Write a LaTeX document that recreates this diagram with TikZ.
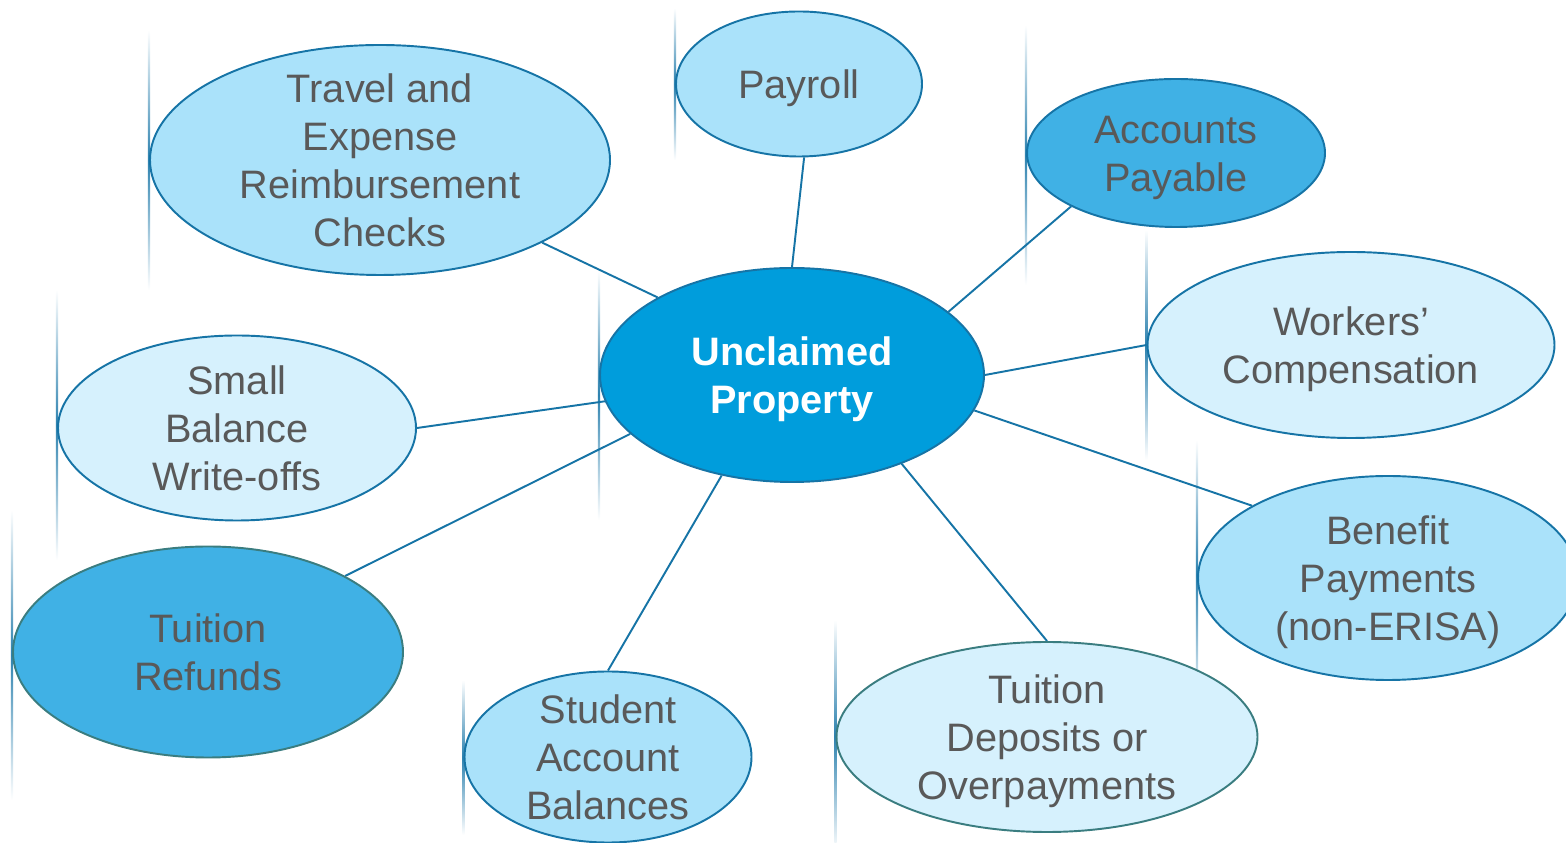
\documentclass[tikz,border=0pt]{standalone}
\usepackage{fontspec}
\setmainfont{Liberation Sans}
\usetikzlibrary{shapes, backgrounds}
\definecolor{hubblue}{RGB}{0,157,220}
\definecolor{midblue}{RGB}{64,177,229}
\definecolor{lightblue}{RGB}{170,226,250}
\definecolor{paleblue}{RGB}{214,241,253}
\definecolor{edgeblue}{RGB}{22,116,166}
\definecolor{edgeteal}{RGB}{58,125,128}
\definecolor{textgray}{RGB}{89,89,89}
% struts keep every label on the same vertical grid
\newcommand{\capstrut}{\rule{0pt}{21.2pt}}
\tikzstyle{bubble} = [ellipse, draw=edgeblue, line width=1.1pt, inner sep=-10pt,
    align=center, text=textgray, font=\fontsize{22.6}{27.3}\selectfont,
    execute at end node={\rule[-4.8pt]{0pt}{4.8pt}}]
\tikzstyle{line} = [draw, edgeblue, line width=1.1pt]
% thin faded stroke hanging at the west end of a bubble: node, up, down
\newcommand{\edgetail}[3]{%
  \shade[top color=white, bottom color=white, middle color=edgeblue!90]
    ([xshift=-0.6pt, yshift=#2cm]#1.west) rectangle ([xshift=0.6pt, yshift=-#3cm]#1.west);}

\begin{document}
\begin{tikzpicture}
\useasboundingbox (0,0) rectangle (31.32,16.86);
\node[bubble, fill=hubblue, text=white, font=\fontsize{22.6}{27.3}\selectfont\bfseries,
    minimum width=7.68cm, minimum height=4.28cm] (hub) at (15.84,9.36) {\capstrut Unclaimed\\Property};
\node[bubble, fill=lightblue, minimum width=9.2cm, minimum height=4.6cm] (travel) at (7.60,13.66)
    {\capstrut Travel and\\Expense\\Reimbursement\\Checks};
\node[bubble, fill=lightblue, minimum width=4.92cm, minimum height=2.9cm] (payroll) at (15.98,15.18)
    {\capstrut Payroll};
\node[bubble, fill=midblue, minimum width=5.96cm, minimum height=2.96cm] (payable) at (23.52,13.80)
    {\capstrut Accounts\\Payable};
\node[bubble, fill=paleblue, minimum width=8.14cm, minimum height=3.72cm] (workers) at (27.02,9.96)
    {\capstrut Workers'\\Compensation};
\node[bubble, fill=lightblue, minimum width=7.6cm, minimum height=4.08cm] (benefit) at (27.76,5.30)
    {\capstrut Benefit\\Payments\\(non-ERISA)};
\node[bubble, fill=paleblue, draw=edgeteal, minimum width=8.42cm, minimum height=3.8cm] (deposits) at (20.94,2.12)
    {\capstrut Tuition\\Deposits or\\Overpayments};
\node[bubble, fill=lightblue, minimum width=5.74cm, minimum height=3.42cm] (student) at (12.16,1.72)
    {\capstrut Student\\Account\\Balances};
\node[bubble, fill=midblue, draw=edgeteal, minimum width=7.8cm, minimum height=4.22cm] (refunds) at (4.16,3.82)
    {\capstrut Tuition\\Refunds};
\node[bubble, fill=paleblue, minimum width=7.16cm, minimum height=3.7cm] (writeoff) at (4.74,8.30)
    {\capstrut Small\\Balance\\Write-offs};

\begin{scope}[on background layer]
\edgetail{travel}{2.6}{2.6}
\edgetail{payroll}{1.52}{1.52}
\edgetail{payable}{2.56}{2.64}
\edgetail{workers}{2.3}{2.3}
\edgetail{benefit}{2.76}{2.64}
\edgetail{hub}{2.1}{2.9}
\edgetail{writeoff}{2.76}{2.64}
\edgetail{refunds}{2.84}{2.96}
\edgetail{student}{1.54}{1.56}
\edgetail{deposits}{2.34}{2.3}
\path [line] (hub.north) -- (payroll.-86);
\path [line] (hub.150) -- (travel.-27);
\path [line] (hub.22) -- (payable.207);
\path [line] (hub.east) -- (workers.west);
\path [line] (hub.-11) -- (benefit.152);
\path [line] (hub.-39) -- (deposits.north);
\path [line] (hub.-125) -- (student.north);
\path [line] (hub.200) -- (refunds.29);
\path [line] (hub.188) -- (writeoff.east);
\end{scope}
\end{tikzpicture}
\end{document}
